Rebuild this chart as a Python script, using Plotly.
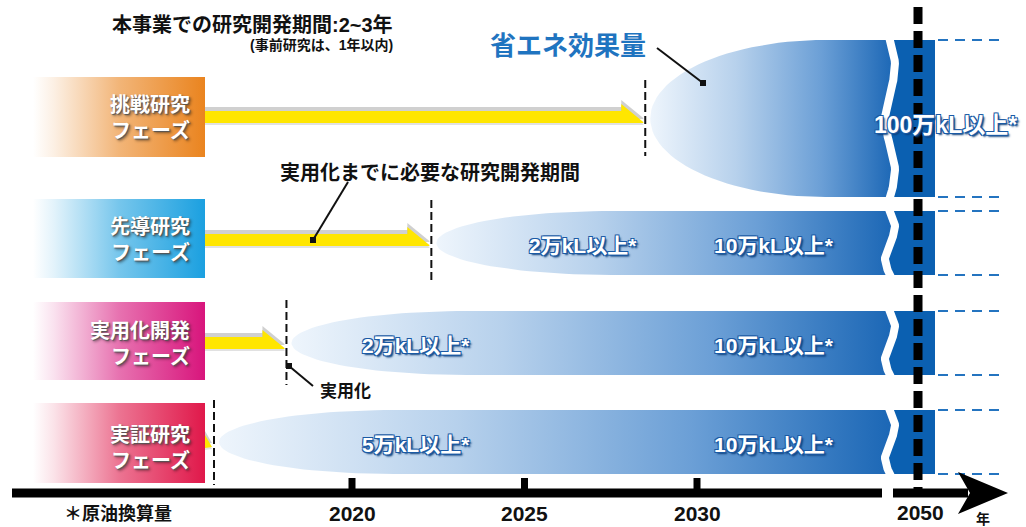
import numpy as np
import plotly.graph_objects as go

# ---------------- data ----------------
phase_names = ["挑戦研究", "先導研究", "実用化開発", "実証研究"]
phase_suffix = "フェーズ"
phase_colors = ["#EA841F", "#1BA0E0", "#D8157C", "#E0184A"]
phase_end_years = [2028.5, 2022.3, 2018.1, 2016.0]
early_savings = ["", "2万kL以上*", "2万kL以上*", "5万kL以上*"]
late_savings = ["100万kL以上*", "10万kL以上*", "10万kL以上*", "10万kL以上*"]
tick_years = [2020, 2025, 2030]
tick_texts = ["2020", "2025", "2030"]
far_year_text = "2050"
unit_text = "年"
title_text = "本事業での研究開発期間:2~3年"
subtitle_text = "(事前研究は、1年以内)"
effect_text = "省エネ効果量"
period_text = "実用化までに必要な研究開発期間"
practical_text = "実用化"
note_text = "＊原油換算量"

# ---------------- layout constants ----------------
W, H = 1026, 527
PX_2020 = 352.0
PX_PER_YEAR = 34.5
FONT = "Liberation Sans, Noto Sans CJK JP, sans-serif"


def X(px):
    """pixel column -> axis units (years)"""
    return 2020 + (px - PX_2020) / PX_PER_YEAR


def P(year):
    """axis units (years) -> pixel column"""
    return PX_2020 + (year - 2020) * PX_PER_YEAR


rows = [
    dict(box=(77, 157), arrow=117, dash=(80, 156), blue=(40, 197), waves=1.5, text_y=118,
         early_px=None, late_px=945, late_size=23),
    dict(box=(199, 278), arrow=240, dash=(200, 282), blue=(211, 275), waves=1.0, text_y=239,
         early_px=583, late_px=774, late_size=21),
    dict(box=(302, 380), arrow=343, dash=(300, 385), blue=(311, 375), waves=1.0, text_y=344,
         early_px=416, late_px=774, late_size=21),
    dict(box=(403, 483), arrow=442, dash=(400, 485), blue=(410, 474), waves=1.0, text_y=448,
         early_px=416, late_px=774, late_size=21),
]
BOX_X = (33, 205)
BREAK_PX = 890
DARK_RIGHT = 935
FAR_PX = 918
NOSE = 175

fig = go.Figure()


def poly(xs_px, ys, fill=None, gradient=None):
    xs = [X(p) for p in xs_px]
    kw = dict(x=xs + [xs[0]], y=list(ys) + [ys[0]], mode="lines", fill="toself",
              line=dict(width=0), hoverinfo="skip", showlegend=False)
    if gradient is not None:
        kw["fillgradient"] = dict(type="horizontal", colorscale=gradient)
    else:
        kw["fillcolor"] = fill
    fig.add_trace(go.Scatter(**kw))


def line(xs_px, ys, color, width, dash="solid", marker_end=False, marker_start=False):
    kw = dict(x=[X(p) for p in xs_px], y=list(ys), mode="lines",
              line=dict(color=color, width=width, dash=dash),
              hoverinfo="skip", showlegend=False)
    fig.add_trace(go.Scatter(**kw))
    pts = []
    if marker_end:
        pts.append((xs_px[-1], ys[-1]))
    if marker_start:
        pts.append((xs_px[0], ys[0]))
    for (mx, my) in pts:
        fig.add_trace(go.Scatter(x=[X(mx)], y=[my], mode="markers",
                                 marker=dict(symbol="square", size=6, color=color),
                                 hoverinfo="skip", showlegend=False))


def blend(c, t):
    c = c.lstrip("#")
    r, g, b = int(c[0:2], 16), int(c[2:4], 16), int(c[4:6], 16)
    r = int(255 + (r - 255) * t)
    g = int(255 + (g - 255) * t)
    b = int(255 + (b - 255) * t)
    return f"rgb({r},{g},{b})"


blue_scale = [[0, "#EEF5FC"], [0.35, "#B7D1EC"], [0.7, "#6B9FD6"], [1, "#1A66B5"]]
DARK = "#0B60B1"

annotations = []


def ann(x_px, y, text, size, color="#111111", bold=True, xanchor="center", align="center",
        shadow=None, yanchor="middle"):
    font = dict(family=FONT, size=size, color=color, weight="bold" if bold else "normal")
    if shadow:
        font["shadow"] = shadow
    annotations.append(dict(x=X(x_px), y=y, xref="x", yref="y", text=text, showarrow=False,
                            font=font, xanchor=xanchor, yanchor=yanchor, align=align))


# ---------- left phase boxes ----------
for i, r in enumerate(rows):
    y0, y1 = r["box"]
    c = phase_colors[i]
    poly([BOX_X[0], BOX_X[1], BOX_X[1], BOX_X[0]], [y0, y0, y1, y1],
         gradient=[[0, "#FFFFFF"], [0.12, blend(c, 0.12)], [0.5, blend(c, 0.6)], [1, c]])
    ann(BOX_X[1] - 13, r["text_y"], f"{phase_names[i]}<br>{phase_suffix}", 20, color="#FFFFFF",
        xanchor="right", align="right",
        shadow="1px 1px 1px #555555, 2px 2px 3px rgba(0,0,0,0.45)")

# ---------- yellow arrows ----------
for i, r in enumerate(rows):
    xe = P(phase_end_years[i]) - 2
    x0 = BOX_X[1]
    yc = r["arrow"]
    yt, yb = yc - 6, yc + 6
    xn = max(x0, xe - 22)
    if xn > x0:
        xs = [x0, xn, xn, xe, xe, x0]
        ys = [yt, yt, yt - 7, yb - 1, yb, yb]
    else:
        xs = [x0, x0, xe, x0]
        ys = [yt, yt - 1, yb - 1, yb]
    poly(xs, [v - 4 for v in ys], fill="rgba(150,150,150,0.45)")
    poly(xs, [v + 2 for v in ys], fill="rgba(170,170,170,0.35)")
    poly(xs, ys, fill="#FFE600")

# ---------- blue saving shapes ----------
for i, r in enumerate(rows):
    top, bot = r["blue"]
    yc = (top + bot) / 2
    h = (bot - top) / 2
    xs0 = P(phase_end_years[i]) + 5
    th1 = np.linspace(np.pi, np.pi / 2, 30)
    top_x = xs0 + NOSE + NOSE * np.cos(th1)
    top_y = yc - h * np.sin(th1)
    wy = np.linspace(top, bot, 40)
    wx = BREAK_PX + 5 * np.sin(2 * np.pi * r["waves"] * (wy - top) / (bot - top))
    th2 = np.linspace(np.pi / 2, np.pi, 30)
    bot_x = xs0 + NOSE + NOSE * np.cos(th2)
    bot_y = yc + h * np.sin(th2)
    xs = list(top_x) + list(wx) + list(bot_x)
    ys = list(top_y) + list(wy) + list(bot_y)
    poly(xs, ys, gradient=blue_scale)
    # dark block beyond break
    poly(list(wx) + [DARK_RIGHT, DARK_RIGHT], list(wy) + [bot, top], fill=DARK)
    # white wave gap
    wy2 = np.linspace(top - 3, bot + 3, 50)
    wx2 = BREAK_PX + 5 * np.sin(2 * np.pi * r["waves"] * (wy2 - top) / (bot - top))
    line(list(wx2), list(wy2), "#FFFFFF", 8)

# ---------- right blue dashed guides ----------
for r in rows:
    for yv in r["blue"]:
        line([DARK_RIGHT + 3, 1000], [yv, yv], "#2474C0", 2, dash="10px,7px")

# ---------- big 2050 dashed line ----------
line([FAR_PX, FAR_PX], [7, 489], "#000000", 9, dash="17px,7px")

# ---------- phase end dashed lines ----------
for i, r in enumerate(rows):
    xp = P(phase_end_years[i])
    line([xp, xp], list(r["dash"]), "#111111", 2, dash="8px,4px")

# ---------- time axis ----------
AX_Y = 493
line([12, 882], [AX_Y, AX_Y], "#000000", 9)
line([893, 968], [AX_Y, AX_Y], "#000000", 9)
poly([958, 1008, 958, 970], [472, AX_Y, 514, AX_Y], fill="#000000")
for yr, tt in zip(tick_years, tick_texts):
    fig.add_trace(go.Scatter(x=[yr, yr], y=[478, AX_Y], mode="lines",
                             line=dict(color="#000000", width=7),
                             hoverinfo="skip", showlegend=False))
    annotations.append(dict(x=yr, y=513, xref="x", yref="y", text=tt, showarrow=False,
                            font=dict(family=FONT, size=21, color="#111111", weight="bold"),
                            xanchor="center", yanchor="middle"))
ann(FAR_PX + 2, 512, far_year_text, 21)
ann(983, 519, unit_text, 14)
ann(118, 513, note_text, 18)

# ---------- callouts ----------
line([657, 703], [48, 83], "#111111", 2, marker_end=True)
line([348, 313], [182, 240], "#111111", 2, marker_end=True)
line([313, 289], [386, 366], "#111111", 2, marker_end=True)

# ---------- texts ----------
ann(252, 25, title_text, 20)
ann(395, 45, subtitle_text, 14, xanchor="right")
ann(568, 46, effect_text, 26, color="#1F74C0")
ann(430, 173, period_text, 20)
ann(345, 391, practical_text, 17)

blue_shadow = ("-1px -1px 0 #1A5AA5, 1px -1px 0 #1A5AA5, -1px 1px 0 #1A5AA5, "
               "1px 1px 0 #1A5AA5, 2px 2px 2px #0C3E7A")
for i, r in enumerate(rows):
    yc = sum(r["blue"]) / 2
    if early_savings[i]:
        ann(r["early_px"], yc + 2, early_savings[i], 21, color="#FFFFFF", shadow=blue_shadow)
    ann(r["late_px"], yc + (6 if i == 0 else 2), late_savings[i], r["late_size"],
        color="#FFFFFF", shadow=blue_shadow)

fig.update_layout(
    width=W, height=H,
    margin=dict(l=0, r=0, t=0, b=0),
    paper_bgcolor="#FFFFFF", plot_bgcolor="#FFFFFF",
    xaxis=dict(range=[X(0), X(W)], visible=False, fixedrange=True),
    yaxis=dict(range=[H, 0], visible=False, fixedrange=True),
    annotations=annotations,
    showlegend=False,
)

fig.write_html(
    "out.html",
    config={"displayModeBar": False},
    post_script="document.body.style.margin='0';document.body.style.overflow='hidden';",
)
